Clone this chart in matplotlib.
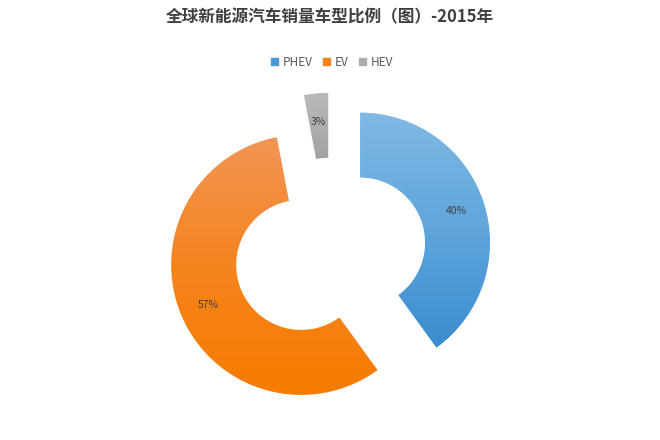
import matplotlib.pyplot as plt
import numpy as np
from matplotlib.colors import LinearSegmentedColormap

plt.rcParams['font.family'] = ['Noto Sans CJK SC', 'DejaVu Sans']

title = '全球新能源汽车销量车型比例（图）-2015年'
labels = ['PHEV', 'EV', 'HEV']
shares = [40, 57, 3]
explode = [0.235, 0.25, 0.225]
# gradient stops, top -> bottom
grad_colors = [
    ['#80b9e4', '#5fa5dc', '#3a8ccf'],
    ['#f29556', '#f5841e', '#f77c00'],
    ['#bababa', '#afafaf', '#a2a2a2'],
]
legend_colors = ['#4a98d6', '#f5841e', '#adadad']

fig = plt.figure(figsize=(6.6, 4.4), dpi=100)
ax = fig.add_axes([0, 0, 1, 1])

# 1 data unit = 130 px, pie centre at (331, 252) px from top-left
scale = 130
cx, cy = 331, 252

wedges, texts, autotexts = ax.pie(
    shares, startangle=90, counterclock=False, radius=1,
    explode=explode, autopct='%d%%', pctdistance=0.78,
    wedgeprops=dict(width=0.5, linewidth=0),
    textprops=dict(fontsize=7.5, color='#404040'),
    frame=True)
ax.axis('off')
ax.set_aspect('auto')

# vertical gradient inside each wedge
for w, cols in zip(wedges, grad_colors):
    w.set_facecolor('none')
    bb = w.get_path().get_extents(w.get_transform() - ax.transData)
    cmap = LinearSegmentedColormap.from_list('g', cols[::-1])
    grad = np.linspace(0, 1, 256).reshape(-1, 1)
    im = ax.imshow(grad, cmap=cmap, origin='lower', aspect='auto',
                   extent=[bb.x0, bb.x1, bb.y0, bb.y1], zorder=1)
    im.set_clip_path(w)
for t in autotexts:
    t.set_zorder(3)

ax.set_xlim(-cx / scale, (660 - cx) / scale)
ax.set_ylim(-(440 - cy) / scale, cy / scale)

fig.text(0.5, 1 - 17 / 440, title, ha='center', va='center',
         fontsize=12, fontweight='bold', color='#404040')

handles = [plt.Rectangle((0, 0), 1, 1, color=c) for c in legend_colors]
fig.legend(handles, labels, loc='center', bbox_to_anchor=(0.503, 1 - 62 / 440),
           ncol=3, frameon=False, fontsize=8.5, labelcolor='#595959',
           handlelength=0.6, handleheight=0.6, handletextpad=0.4,
           columnspacing=0.9)

fig.savefig('out.png', dpi=100, facecolor='white')
